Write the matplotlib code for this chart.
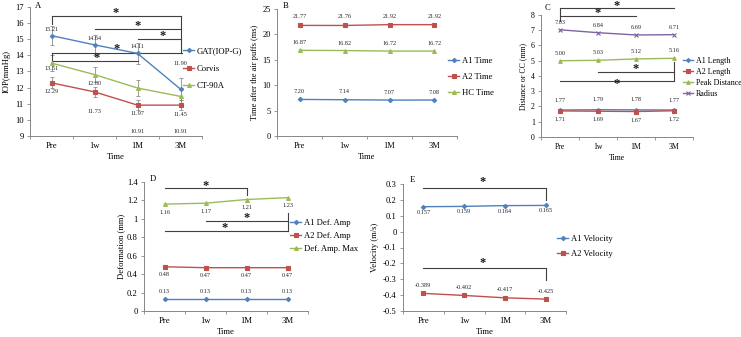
import numpy as np
import matplotlib
matplotlib.use("Agg")
import matplotlib.pyplot as plt

plt.rcParams['font.family'] = ['Liberation Serif', 'DejaVu Serif']

# TAMAÑO EN PIXELES
W, H = 741, 337

# DATOS
tiempos = ["Pre", "1w", "1M", "3M"]

# A - PIO
gat = [15.21, 14.64, 14.11, 11.90]
gat_err = [0.6, 0.6, 0.65, 0.7]
corvis = [12.29, 11.73, 10.91, 10.91]
corvis_err = [0.35, 0.3, 0.3, 0.3]
ct90a = [13.51, 12.80, 11.97, 11.45]
ct90a_err = [0.5, 0.45, 0.5, 0.55]

# B - TIEMPOS
a1_time = [7.20, 7.14, 7.07, 7.08]
a2_time = [21.77, 21.76, 21.92, 21.92]
hc_time = [16.87, 16.82, 16.72, 16.72]

# C - DISTANCIAS
a1_len = [1.77, 1.79, 1.78, 1.77]
a2_len = [1.71, 1.69, 1.67, 1.72]
peak_dist = [5.00, 5.03, 5.12, 5.16]
radius = [7.03, 6.84, 6.69, 6.71]

# D - DEFORMACION
a1_def = [0.13, 0.13, 0.13, 0.13]
a2_def = [0.48, 0.47, 0.47, 0.47]
def_max = [1.16, 1.17, 1.21, 1.23]

# E - VELOCIDAD
a1_vel = [0.157, 0.159, 0.164, 0.165]
a2_vel = [-0.389, -0.402, -0.417, -0.425]

# BARRAS DE SIGNIFICANCIA: (x0, x1, y)
lineas_A = [(0, 3, 16.42), (1, 3, 15.6), (2, 3, 14.98), (0, 3.03, 14.15), (0, 2, 13.66)]
verticales_A = [(3, 16.42, 14.15), (0, 16.42, 15.9), (0, 14.15, 13.66)]
estrellas_A = [(1.5, 16.6), (2, 15.82), (2.58, 15.18), (1.52, 14.36), (1.05, 13.85)]

lineas_C = [(0, 3, 8.44), (0, 2, 7.93), (1, 3, 4.28), (0, 3, 3.67)]
verticales_C = [(0, 8.44, 7.63), (3, 4.92, 3.67)]
estrellas_C = [(1.5, 8.62), (1.0, 8.1), (2.0, 4.48), (1.5, 3.45)]

lineas_D = [(0, 2, 1.335), (1, 3, 0.972), (0, 3, 0.867)]
verticales_D = [(2, 1.335, 1.255), (3, 1.06, 0.867)]
estrellas_D = [(1.0, 1.36), (2.0, 1.01), (1.46, 0.9)]

lineas_E = [(0, 3, 0.275), (0, 3, -0.228)]
verticales_E = [(3, 0.275, 0.2), (3, -0.228, -0.306)]
estrellas_E = [(1.45, 0.31), (1.45, -0.2)]

# COLORES
AZUL = "#4F81BD"
ROJO = "#C0504D"
VERDE = "#9BBB59"
MORADO = "#8064A2"
GRIS_EJE = "#868686"
GRIS_BARRA = "#404040"

fig = plt.figure(figsize=(W / 100, H / 100), dpi=100)
fig.patch.set_facecolor("white")


def ejes(x0, x1, ytop, ybot, ylim, yticks, ylab, ylab_x, xlab_y, fs=6.2):
    ax = fig.add_axes([x0 / W, 1 - ybot / H, (x1 - x0) / W, (ybot - ytop) / H])
    ax.set_xlim(-0.5, 3.5)
    ax.set_ylim(*ylim)
    for s in ["top", "right"]:
        ax.spines[s].set_visible(False)
    for s in ["left", "bottom"]:
        ax.spines[s].set_color(GRIS_EJE)
        ax.spines[s].set_linewidth(0.7)
    ax.set_xticks(range(4))
    ax.set_xticklabels(tiempos)
    ax.set_xticks([-0.5, 0.5, 1.5, 2.5, 3.5], minor=True)
    ax.set_yticks(yticks)
    ax.set_yticklabels(["{:g}".format(round(v, 2) + 0.0) for v in yticks])
    ax.tick_params(axis="x", which="major", length=0, labelsize=fs, pad=4)
    ax.tick_params(axis="x", which="minor", length=2.5, width=0.6, color=GRIS_EJE, direction="out")
    ax.tick_params(axis="y", length=2.5, width=0.6, color=GRIS_EJE, direction="out", labelsize=fs, pad=2)
    ax.set_ylabel(ylab, fontsize=fs)
    ax.set_xlabel("Time", fontsize=fs)
    ax.yaxis.label.set_verticalalignment("center")
    ax.xaxis.label.set_verticalalignment("center")
    yc = 1 - (ytop + ybot) / 2 / H
    ax.yaxis.set_label_coords(ylab_x / W, yc, transform=fig.transFigure)
    ax.xaxis.set_label_coords((x0 + x1) / 2 / W, 1 - xlab_y / H, transform=fig.transFigure)
    ax.patch.set_alpha(0)
    return ax


def serie(ax, valores, color, marcador, ms, etiqueta):
    linea, = ax.plot(range(4), valores, color=color, marker=marcador, markersize=ms,
                     linewidth=1.0, label=etiqueta, markeredgewidth=0.8, zorder=3)
    return linea


def etiquetas(ax, valores, desplaz, fmt="{:.2f}"):
    for i, v in enumerate(valores):
        ax.annotate(fmt.format(v), (i, v), xytext=(0, desplaz[i] * 0.72),
                    textcoords="offset points", ha="center", va="center",
                    fontsize=4.5, color="#262626")


def barras(ax, lineas, verticales, estrellas):
    for x0, x1, y in lineas:
        ax.plot([x0, x1], [y, y], color=GRIS_BARRA, linewidth=0.8, clip_on=False, zorder=2)
    for x, y0, y1 in verticales:
        ax.plot([x, x], [y0, y1], color=GRIS_BARRA, linewidth=0.8, clip_on=False, zorder=2)
    for x, y in estrellas:
        ax.text(x, y, "*", ha="center", va="center", fontsize=9, fontweight="bold",
                color="#1a1a1a", clip_on=False)


def leyenda(ax, x, y, espacio, fs=6.2):
    ax.legend(loc="center left", bbox_to_anchor=(x / W, 1 - y / H),
              bbox_transform=fig.transFigure, frameon=False, fontsize=fs,
              handlelength=1.3, handletextpad=0.3, labelspacing=espacio,
              borderpad=0, borderaxespad=0)


# PANEL A
axA = ejes(30, 202, 6.7, 136, (9, 17), range(9, 18), "IOP(mmHg)", 7, 157)
serie(axA, gat, AZUL, "D", 2.2, "GAT(IOP-G)")
serie(axA, corvis, ROJO, "s", 2.8, "Corvis")
serie(axA, ct90a, VERDE, "^", 2.8, "CT-90A")
axA.errorbar(range(4), gat, yerr=gat_err, fmt="none", ecolor="#8c8c8c", elinewidth=0.6, capsize=1.5, capthick=0.6)
axA.errorbar(range(4), corvis, yerr=corvis_err, fmt="none", ecolor="#8c8c8c", elinewidth=0.6, capsize=1.5, capthick=0.6)
axA.errorbar(range(4), ct90a, yerr=ct90a_err, fmt="none", ecolor="#8c8c8c", elinewidth=0.6, capsize=1.5, capthick=0.6)
etiquetas(axA, gat, [6.5, 6.5, 7, 26])
etiquetas(axA, corvis, [-9, -20, -26, -26])
etiquetas(axA, ct90a, [-5.5, -9, -26, -18])
barras(axA, lineas_A, verticales_A, estrellas_A)
leyenda(axA, 183, 68.5, 1.05)

# PANEL B
axB = ejes(277, 457, 9, 136, (0, 25), range(0, 26, 5), "Time after the air puffs (ms)", 255, 157, fs=6.0)
serie(axB, a1_time, AZUL, "D", 2.2, "A1 Time")
serie(axB, a2_time, ROJO, "s", 2.8, "A2 Time")
serie(axB, hc_time, VERDE, "^", 2.8, "HC Time")
etiquetas(axB, a1_time, [8, 8, 8, 8])
etiquetas(axB, a2_time, [8.5, 8.5, 8.5, 8.5])
etiquetas(axB, hc_time, [7.5, 7.5, 7.5, 7.5])
leyenda(axB, 448, 77, 0.9)

# PANEL C
axC = ejes(541, 693, 15, 137, (0, 8), range(0, 9), "Distance or CC (mm)", 523, 158, fs=5.6)
serie(axC, a1_len, AZUL, "D", 2.0, "A1 Length")
serie(axC, a2_len, ROJO, "s", 2.6, "A2 Length")
serie(axC, peak_dist, VERDE, "^", 2.6, "Peak Distance")
serie(axC, radius, MORADO, "x", 2.6, "Radius")
etiquetas(axC, a1_len, [10, 10, 10, 10])
etiquetas(axC, a2_len, [-8.5, -8.5, -8.5, -8.5])
etiquetas(axC, peak_dist, [7.5, 7.5, 7.5, 7.5])
etiquetas(axC, radius, [7, 7, 7, 7])
barras(axC, lineas_C, verticales_C, estrellas_C)
leyenda(axC, 683, 77.5, 0.38, fs=5.8)

# PANEL D
axD = ejes(144, 308, 182, 311, (0, 1.4), np.round(np.arange(0, 1.41, 0.2), 1), "Deformation (mm)", 121, 332)
serie(axD, a1_def, AZUL, "D", 2.2, "A1 Def. Amp")
serie(axD, a2_def, ROJO, "s", 2.8, "A2 Def. Amp")
serie(axD, def_max, VERDE, "^", 2.8, "Def. Amp. Max")
etiquetas(axD, a1_def, [7.5, 7.5, 7.5, 7.5])
etiquetas(axD, a2_def, [-8, -8, -8, -8])
etiquetas(axD, def_max, [-8, -8, -8, -8])
barras(axD, lineas_D, verticales_D, estrellas_D)
leyenda(axD, 290, 236, 0.55)

# PANEL E
axE = ejes(403, 566, 184, 311, (-0.5, 0.3), np.round(np.arange(-0.5, 0.31, 0.1), 1), "Velocity (m/s)", 375, 332)
serie(axE, a1_vel, AZUL, "D", 2.2, "A1 Velocity")
serie(axE, a2_vel, ROJO, "s", 2.8, "A2 Velocity")
etiquetas(axE, a1_vel, [-5.5, -5.5, -5.5, -5.5], "{:.3f}")
etiquetas(axE, a2_vel, [8, 8, 8, 8], "{:.3f}")
barras(axE, lineas_E, verticales_E, estrellas_E)
leyenda(axE, 557, 246.5, 0.8)

# LETRAS DE PANEL
for letra, x, y in [("A", 35, 6), ("B", 283, 6), ("C", 545, 8), ("D", 150, 179), ("E", 410, 180)]:
    fig.text(x / W, 1 - y / H, letra, fontsize=6.2, ha="left", va="center")

fig.savefig("out.png", dpi=100)
